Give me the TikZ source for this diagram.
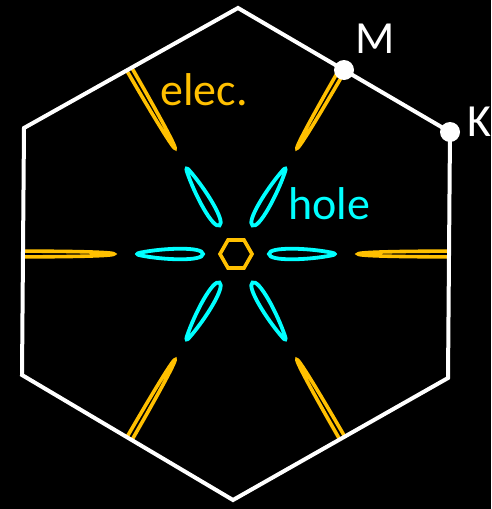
\documentclass[tikz,border=0pt]{standalone}
\usepackage{fontspec}
\setmainfont{Carlito}
\definecolor{elecc}{HTML}{FFC000}
\definecolor{holec}{HTML}{00FFFF}
\begin{document}
\begin{tikzpicture}[x=1pt,y=-1pt,
  bz/.style={draw=white,line width=4pt,line join=miter},
  elecpocket/.style={draw=elecc,line width=3.6pt},
  holepocket/.style={draw=holec,line width=3.8pt},
  hpt/.style={circle,fill=white,inner sep=0pt,minimum size=20pt},
  lbl/.style={font=\fontsize{46}{50}\selectfont,inner sep=0pt,anchor=base west}]
\fill[black] (0,0) rectangle (491,509);
\useasboundingbox (0,0) rectangle (491,509);
% Brillouin zone
\coordinate (v1) at (238,8);
\coordinate (v2) at (450,132);
\coordinate (v3) at (448,378);
\coordinate (v4) at (233,500);
\coordinate (v5) at (22,375);
\coordinate (v6) at (24,128);
\coordinate (G) at (236,254);
% electron pockets, clipped to the zone
\begin{scope}
\clip (v1) -- (v2) -- (v3) -- (v4) -- (v5) -- (v6) -- cycle;
\foreach \a in {0,60,...,300}{
  \begin{scope}[shift={(G)},rotate=\a]
    \draw[elecpocket] (225,2.9) .. controls (175,2.9) and (122,2.2) .. (122,0)
      .. controls (122,-2.2) and (175,-2.9) .. (225,-2.9);
  \end{scope}
}
\end{scope}
% hole pockets
\foreach \a in {0,60,...,300}{
  \begin{scope}[shift={(G)},rotate=\a]
    \draw[holepocket] (33,0) .. controls (33,7.5) and (72,6.2) .. (96,1.3)
      .. controls (99.5,0.6) and (99.5,-0.6) .. (96,-1.3)
      .. controls (72,-6.2) and (33,-7.5) .. (33,0) -- cycle;
  \end{scope}
}
% central hexagon
\draw[elecpocket,line join=miter] (252,254) -- (244,240) -- (228,240) -- (220,254) -- (228,268) -- (244,268) -- cycle;
% zone boundary
\draw[bz] (v1) -- (v2) -- (v3) -- (v4) -- (v5) -- (v6) -- cycle;
% high-symmetry points
\node[hpt] (M) at (344,70) {};
\node[hpt] (K) at (450,132) {};
\node[lbl,text=white] (Mlbl) at (355,53) {M};
\node[lbl,text=white] (Klbl) at (467,136) {K};
\node[lbl,text=elecc] (elbl) at (160,105) {elec.};
\node[lbl,text=holec] (hlbl) at (288,219) {hole};
\end{tikzpicture}
\end{document}
